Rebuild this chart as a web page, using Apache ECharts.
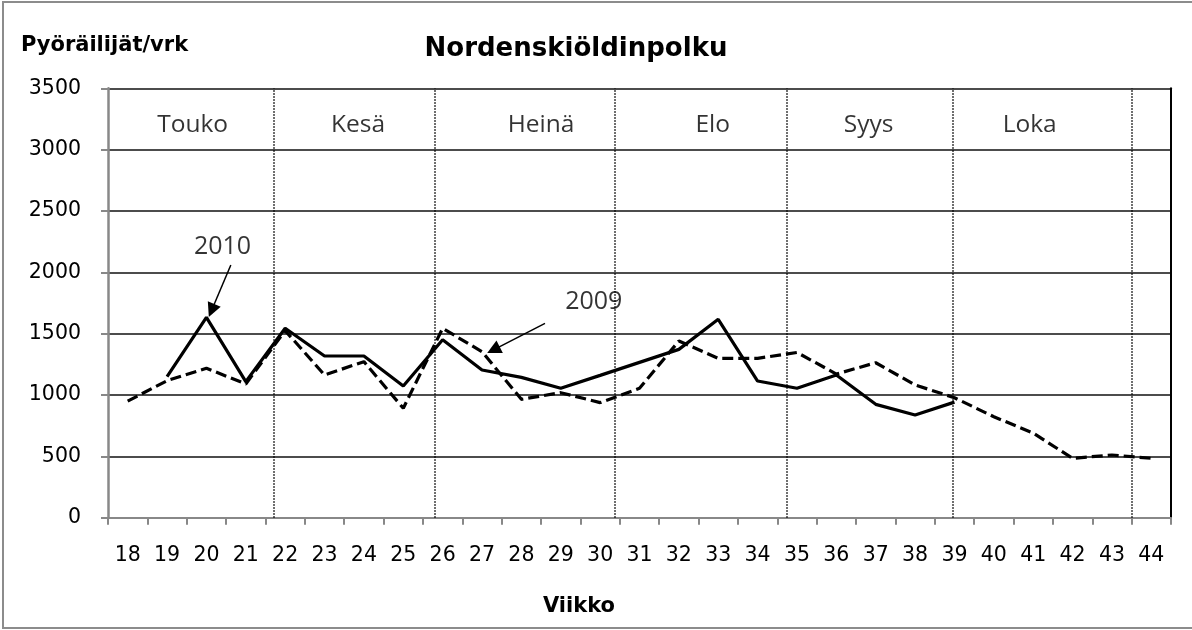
<!DOCTYPE html>
<html>
<head>
<meta charset="utf-8">
<script src="https://cdn.jsdelivr.net/npm/echarts@6/dist/echarts.min.js"></script>
<style>
html,body{margin:0;padding:0;background:#fff;}
#chart{width:1192px;height:630px;}
</style>
</head>
<body>
<div id="chart"></div>
<script>
// Week numbers (categories)
const weeks = ['18','19','20','21','22','23','24','25','26','27','28','29','30','31','32','33','34','35','36','37','38','39','40','41','42','43','44'];
// Cyclists per day, 2010 (solid)
const v2010 = [null,1150,1633,1109,1544,1318,1318,1073,1450,1204,1144,1055,1160,1266,1372,1617,1114,1055,1163,924,837,942,null,null,null,null,null];
// Cyclists per day, 2009 (dashed)
const v2009 = [950,1117,1218,1090,1525,1163,1272,892,1544,1353,965,1019,938,1055,1440,1299,1299,1347,1171,1263,1082,978,823,690,484,511,484];
// Y axis ticks
const yMin = 0, yMax = 3500, yStep = 500;
// Month boundaries in week units
const monthBounds = [21.7, 25.81, 30.37, 34.75, 38.96, 43.5];
// Month labels and their week positions
const monthNames = ['Touko','Kesä','Heinä','Elo','Syys','Loka'];
const monthPos = [19.65, 23.85, 28.5, 32.86, 36.82, 40.91];
const monthLabelValue = 3200;
// Annotations
const annoText = ['2010','2009'];
const annoTextPos = [[20.41, 2209],[29.84, 1760]];
const annoArrows = [[[20.62, 2060],[20.13, 1689]], [[28.6, 1584],[27.29, 1368]]];

const chart = echarts.init(document.getElementById('chart'), null, {renderer:'canvas'});
const FONT = 'DejaVu Sans';
const option = {
  animation: false,
  backgroundColor: '#fff',
  graphic: [{
    type: 'rect', shape: {x: 3, y: 2, width: 1200, height: 626},
    style: {fill: 'none', stroke: '#8c8c8c', lineWidth: 2}, silent: true, z: -1
  }],
  title: [
    {text: 'Nordenskiöldinpolku', left: 576, top: 36, textAlign: 'center', padding: 0,
     textStyle: {fontFamily: FONT, fontWeight: 'bold', fontSize: 26, color: '#000'}},
    {text: 'Pyöräilijät/vrk', left: 21, top: 35, padding: 0,
     textStyle: {fontFamily: FONT, fontWeight: 'bold', fontSize: 21, color: '#000'}},
    {text: 'Viikko', left: 579, top: 596, textAlign: 'center', padding: 0,
     textStyle: {fontFamily: FONT, fontWeight: 'bold', fontSize: 21, color: '#000'}}
  ],
  grid: {left: 108, right: 21, top: 88.3, bottom: 112.3, containLabel: false},
  xAxis: [{
    type: 'category', data: weeks, boundaryGap: true,
    axisLine: {show: true, lineStyle: {color: '#888', width: 2}},
    axisTick: {show: true, interval: 0, alignWithLabel: false, length: 7, lineStyle: {color: '#888', width: 2}},
    axisLabel: {interval: 0, margin: 27, fontFamily: FONT, fontSize: 20.5, color: '#000'},
    splitLine: {show: false}
  }, {
    type: 'value', min: 17.5, max: 44.5, show: false
  }],
  yAxis: [{
    type: 'value', min: yMin, max: yMax, interval: yStep,
    axisLine: {show: true, lineStyle: {color: '#888', width: 2.5}},
    axisTick: {show: true, length: 7, lineStyle: {color: '#888', width: 2}},
    axisLabel: {margin: 27, fontFamily: FONT, fontSize: 20.5, color: '#000', formatter: v => String(v)},
    splitLine: {show: true, lineStyle: {color: '#111', width: 1.5}}
  }, {
    type: 'value', min: yMin, max: yMax, interval: yStep, position: 'right',
    axisLine: {show: true, lineStyle: {color: '#000', width: 2}},
    axisTick: {show: false}, axisLabel: {show: false}, splitLine: {show: false}
  }],
  series: [
    {
      name: 'months', type: 'scatter', xAxisIndex: 1, yAxisIndex: 0, symbolSize: 0, silent: true,
      data: monthNames.map((n, i) => ({name: n, value: [monthPos[i], monthLabelValue]})),
      label: {show: true, position: 'inside', formatter: '{b}', fontFamily: 'Open Sans', fontSize: 24.5, color: '#000'},
      markLine: {
        silent: true, symbol: 'none', label: {show: false},
        lineStyle: {type: 'dotted', color: '#000', width: 1.5},
        data: monthBounds.map(v => ({xAxis: v}))
      },
      z: 1
    },
    {
      name: '2009', type: 'line', data: v2009, xAxisIndex: 0, yAxisIndex: 0,
      showSymbol: false, symbol: 'none', connectNulls: false,
      lineStyle: {color: '#000', width: 3.2, type: [11, 5]}, z: 3
    },
    {
      name: '2010', type: 'line', data: v2010, xAxisIndex: 0, yAxisIndex: 0,
      showSymbol: false, symbol: 'none', connectNulls: false,
      lineStyle: {color: '#000', width: 3.2, type: 'solid'}, z: 4
    },
    {
      name: 'annotations', type: 'scatter', xAxisIndex: 1, yAxisIndex: 0, symbolSize: 0, silent: true,
      data: annoText.map((t, i) => ({name: t, value: annoTextPos[i]})),
      label: {show: true, position: 'inside', formatter: '{b}', fontFamily: 'Open Sans', fontSize: 25, color: '#000'},
      z: 5
    },
    {
      name: 'arrows', type: 'lines', coordinateSystem: 'cartesian2d', xAxisIndex: 1, yAxisIndex: 0,
      silent: true, symbol: ['none', 'triangle'], symbolSize: [0, 14],
      lineStyle: {color: '#000', width: 1.5, opacity: 1, curveness: 0},
      data: annoArrows.map(c => ({coords: c})),
      z: 5
    }
  ]
};
chart.setOption(option);
</script>
</body>
</html>
